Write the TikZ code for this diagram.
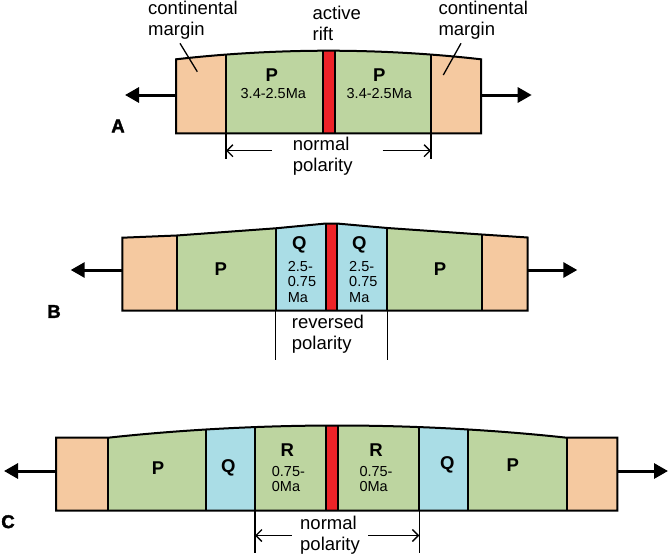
\documentclass[tikz,border=0pt]{standalone}
\usepackage{fontspec}
\setmainfont{Liberation Sans}
\newfontfamily\heavyfont[BoldFeatures={FakeBold=2}]{Liberation Sans}
\usepackage{xcolor}
\definecolor{Margin}{HTML}{F5C9A0}
\definecolor{Normal}{HTML}{BDD5A0}
\definecolor{Reversed}{HTML}{AADDE6}
\definecolor{Rift}{HTML}{ED2328}
\usetikzlibrary{arrows.meta}
\tikzset{
  edge/.style={draw=black,line width=2pt,line join=miter},
  wire/.style={draw=black,line width=1.3pt},
  push/.style={-{Triangle[length=14pt,width=15pt]},line width=3pt},
  span/.style={-{Straight Barb[length=6pt,width=12pt]},line width=1.3pt},
  panel/.style={font=\fontsize{18.5}{18}\heavyfont\bfseries,inner sep=0pt},
  zone/.style={font=\fontsize{18.5}{18}\selectfont\bfseries,inner sep=0pt},
  age/.style={font=\fontsize{14.5}{15.5}\selectfont,align=left,inner sep=0pt},
  lbl/.style={font=\fontsize{18.5}{21}\selectfont,align=left,inner sep=0pt},
}

\begin{document}
\begin{tikzpicture}[x=1pt,y=-1pt]
\useasboundingbox (0,0) rectangle (669,557);

% panel A
\begin{scope}
  \clip (176,133.3) -- (176,59.3) parabola bend (328.5,50.7) (481,59.3) -- (481,133.3) -- cycle;
  \foreach \l/\r/\c in {176/226/Margin,226/322.7/Normal,322.7/335/Rift,335/431/Normal,431/481/Margin}
    \fill[fill=\c] (\l,40) rectangle (\r,140);
  \foreach \x in {226,322.7,335,431}
    \draw[edge] (\x,40) -- (\x,140);
\end{scope}
\draw[edge] (176,133.3) -- (176,59.3) parabola bend (328.5,50.7) (481,59.3) -- (481,133.3) -- cycle;

\node[panel] (labA) at (118,126) {A};
\node[zone] (pA1) at (271.7,75) {P};
\node[zone] (pA2) at (379.3,75) {P};
\node[age] (tA1) at (273.3,93.3) {3.4-2.5Ma};
\node[age] (tA2) at (379.3,93.3) {3.4-2.5Ma};

\node[lbl,anchor=west] (cmL) at (148,20) {continental\\margin};
\node[lbl,anchor=west] (cmR) at (438.3,20) {continental\\margin};
\node[lbl,anchor=west] (rift) at (312.5,23.7) {active\\rift};
\coordinate (cmL-tip) at (197.3,71.7);
\coordinate (cmR-tip) at (443.3,75);
\draw[wire] (cmL.south west) ++(32,4) coordinate (cmL-foot) (cmL-foot) -- (cmL-tip);
\draw[wire] (cmR.south west) ++(22.7,4) coordinate (cmR-foot) (cmR-foot) -- (cmR-tip);

\coordinate (A-w) at (176,95);   \coordinate (A-wt) at (125,95);
\coordinate (A-e) at (481,95);   \coordinate (A-et) at (531.7,95);
\draw[push] (A-w) -- (A-wt);
\draw[push] (A-e) -- (A-et);

% normal polarity span A
\coordinate (A-s1) at (226,133.3); \coordinate (A-s1b) at (226,159.3);
\coordinate (A-s2) at (431,133.3); \coordinate (A-s2b) at (431,159.3);
\draw[wire] (A-s1) -- (A-s1b);
\draw[wire] (A-s2) -- (A-s2b);
\node[lbl,anchor=west] (polA) at (292.7,156.4) {normal\\polarity};
\draw[span] (polA.west |- 0,150.7) ++(-21,0) coordinate (A-pl) (A-pl) -- (A-s1 |- A-pl);
\draw[span] (polA.east |- 0,150.7) ++(30,0) coordinate (A-pr) (A-pr) -- (A-s2 |- A-pr);

% panel B
\begin{scope}
  \clip (122.3,310.7) -- (122.3,237.7) -- (176.7,235.5) -- (275.7,228.3) -- (326,223.5)
    -- (336.7,223.5) -- (387.3,228) -- (481.7,234.5) -- (527.7,237.5) -- (527.7,310.7) -- cycle;
  \foreach \l/\r/\c in {122.3/176.7/Margin,176.7/275.7/Normal,275.7/326/Reversed,326/336.7/Rift,
      336.7/387.3/Reversed,387.3/481.7/Normal,481.7/527.7/Margin}
    \fill[fill=\c] (\l,215) rectangle (\r,320);
  \foreach \x in {176.7,275.7,326,336.7,387.3,481.7}
    \draw[edge] (\x,215) -- (\x,320);
\end{scope}
\draw[edge] (122.3,310.7) -- (122.3,237.7) -- (176.7,235.5) -- (275.7,228.3) -- (326,223.5)
    -- (336.7,223.5) -- (387.3,228) -- (481.7,234.5) -- (527.7,237.5) -- (527.7,310.7) -- cycle;

\node[panel] (labB) at (54,311.5) {B};
\node[zone] (pB1) at (220.7,269.3) {P};
\node[zone] (pB2) at (440,269.3) {P};
\node[zone] (qB1) at (299.3,245) {Q};
\node[zone] (qB2) at (359.3,245) {Q};
\node[age,anchor=west] (tB1) at (287.7,282) {2.5-\\0.75\\Ma};
\node[age,anchor=west] (tB2) at (349,282) {2.5-\\0.75\\Ma};

\coordinate (B-w) at (122.3,270);  \coordinate (B-wt) at (70.7,270);
\coordinate (B-e) at (527.7,270);  \coordinate (B-et) at (577.3,270);
\draw[push] (B-w) -- (B-wt);
\draw[push] (B-e) -- (B-et);

% reversed polarity span B
\coordinate (B-s1) at (275.7,310.7); \coordinate (B-s1b) at (275.7,360);
\coordinate (B-s2) at (387.3,310.7); \coordinate (B-s2b) at (387.3,360);
\draw[wire] (B-s1) -- (B-s1b);
\draw[wire] (B-s2) -- (B-s2b);
\node[lbl,anchor=west] (polB) at (291.7,333.9) {reversed\\polarity};

% panel C
\begin{scope}
  \clip (56,510.7) -- (56,437.7) -- (108,437.7) parabola bend (337,425.5) (566.7,437.7)
    -- (617.3,437.7) -- (617.3,510.7) -- cycle;
  \foreach \l/\r/\c in {56/108/Margin,108/205.7/Normal,205.7/255/Reversed,255/326/Normal,326/337.5/Rift,
      337.5/419.3/Normal,419.3/468.3/Reversed,468.3/566.7/Normal,566.7/617.3/Margin}
    \fill[fill=\c] (\l,415) rectangle (\r,520);
  \foreach \x in {108,205.7,255,326,337.5,419.3,468.3,566.7}
    \draw[edge] (\x,415) -- (\x,520);
\end{scope}
\draw[edge] (56,510.7) -- (56,437.7) -- (108,437.7) parabola bend (337,425.5) (566.7,437.7)
    -- (617.3,437.7) -- (617.3,510.7) -- cycle;

\node[panel] (labC) at (8,521.7) {C};
\node[zone] (pC1) at (158,468.3) {P};
\node[zone] (qC1) at (228.3,468) {Q};
\node[zone] (rC1) at (287.3,450) {R};
\node[zone] (rC2) at (376,450) {R};
\node[zone] (qC2) at (447.3,465) {Q};
\node[zone] (pC2) at (512.7,465) {P};
\node[age,anchor=west] (tC1) at (271.7,479) {0.75-\\0Ma};
\node[age,anchor=west] (tC2) at (359.3,479) {0.75-\\0Ma};

\coordinate (C-w) at (56,471);     \coordinate (C-wt) at (4,471);
\coordinate (C-e) at (617.3,471);  \coordinate (C-et) at (668,471);
\draw[push] (C-w) -- (C-wt);
\draw[push] (C-e) -- (C-et);

% normal polarity span C
\coordinate (C-s1) at (255,510.7);   \coordinate (C-s1b) at (255,553);
\coordinate (C-s2) at (419.3,510.7); \coordinate (C-s2b) at (419.3,553);
\draw[wire] (C-s1) -- (C-s1b);
\draw[wire] (C-s2) -- (C-s2b);
\node[lbl,anchor=west] (polC) at (300,534.9) {normal\\polarity};
\draw[span] (polC.west |- 0,535.5) ++(-8.3,0) coordinate (C-pl) (C-pl) -- (C-s1 |- C-pl);
\draw[span] (polC.east |- 0,535.5) ++(8.3,0) coordinate (C-pr) (C-pr) -- (C-s2 |- C-pr);
\end{tikzpicture}
\end{document}
